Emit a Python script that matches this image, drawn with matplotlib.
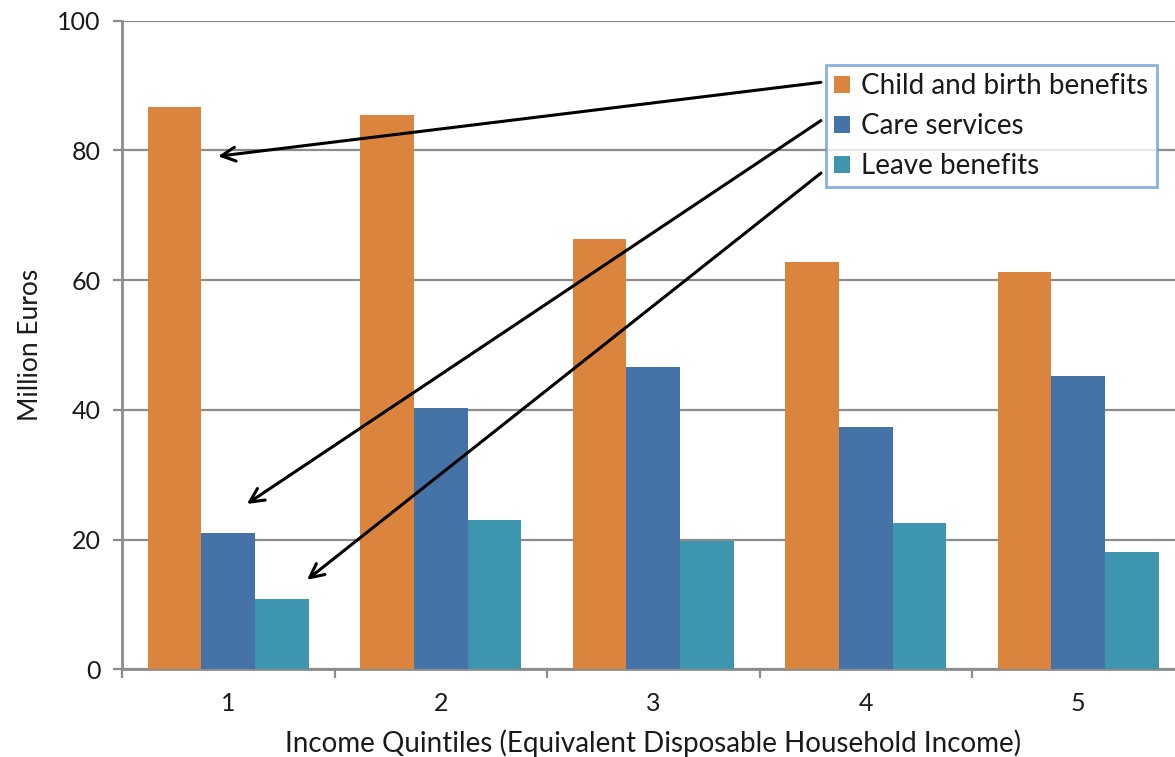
import matplotlib
matplotlib.use("Agg")
import matplotlib.pyplot as plt
import numpy as np

categories = ["1", "2", "3", "4", "5"]
series_names = ["Child and birth benefits", "Care services", "Leave benefits"]
child_birth = [86.7, 85.4, 66.3, 62.8, 61.2]
care_services = [21.0, 40.3, 46.6, 37.3, 45.2]
leave_benefits = [10.9, 23.0, 19.8, 22.6, 18.1]
colors = ["#DB843D", "#4572A7", "#3D96AE"]
y_ticks = [0, 20, 40, 60, 80, 100]

plt.rcParams['font.family'] = ['Lato', 'DejaVu Sans']

fig = plt.figure(figsize=(11.75, 7.57), dpi=100)
ax = fig.add_axes([122 / 1175, 87.7 / 757, 1062.5 / 1175, 648.6 / 757])

x = np.arange(len(categories))
w = 0.252
for i, (vals, col, name) in enumerate(zip([child_birth, care_services, leave_benefits], colors, series_names)):
    ax.bar(x + (i - 1) * w, vals, width=w, color=col, label=name, zorder=3)

ax.set_xlim(-0.5, len(categories) - 0.5)
ax.set_ylim(0, 100)
ax.set_yticks(y_ticks)
ax.set_yticklabels([str(t) for t in y_ticks], fontsize=18, color="#1a1a1a")
ax.yaxis.grid(True, color="#8c8c8c", linewidth=1.6, zorder=0)
ax.set_axisbelow(True)

ax.set_xticks(x)
ax.set_xticklabels(categories, fontsize=18, color="#1a1a1a")
ax.set_xticks(np.arange(-0.5, len(categories) + 0.5, 1), minor=True)
ax.tick_params(axis="x", which="major", length=0, pad=16)
ax.tick_params(axis="x", which="minor", length=6.5, width=1.6, color="#8c8c8c", direction="out")
ax.tick_params(axis="y", which="major", length=6.5, width=1.6, color="#8c8c8c", direction="out", pad=9)

for s in ["top", "right"]:
    ax.spines[s].set_visible(False)
for s in ["left", "bottom"]:
    ax.spines[s].set_color("#8c8c8c")
    ax.spines[s].set_linewidth(2)

ax.set_xlabel("Income Quintiles (Equivalent Disposable Household Income)", fontsize=20,
              color="#1a1a1a", labelpad=11)
ax.set_ylabel("Million Euros", fontsize=19, color="#1a1a1a", labelpad=10)

leg = fig.legend(loc="upper left", bbox_to_anchor=(826 / 1175, 1 - 65 / 757),
                 borderaxespad=0, fontsize=20, frameon=True, fancybox=False,
                 handlelength=0.55, handleheight=0.55, handletextpad=0.42,
                 labelspacing=0.5, borderpad=0.3)
leg.get_frame().set_edgecolor("#6F9BD6")
leg.get_frame().set_linewidth(2)
for t in leg.get_texts():
    t.set_color("#1a1a1a")

# arrows from legend to first-quintile bars
starts = [(2.789, 90.5), (2.789, 84.6), (2.789, 76.5)]
tips = [(-0.048, 79.1), (0.088, 25.5), (0.371, 13.8)]
for (sx, sy), (tx, ty) in zip(starts, tips):
    ax.annotate("", xy=(tx, ty), xytext=(sx, sy),
                arrowprops=dict(arrowstyle="->,head_length=1.0,head_width=0.5",
                                color="black", lw=2.2, shrinkA=0, shrinkB=0),
                zorder=5, annotation_clip=False)

fig.savefig("out.png", dpi=100)
